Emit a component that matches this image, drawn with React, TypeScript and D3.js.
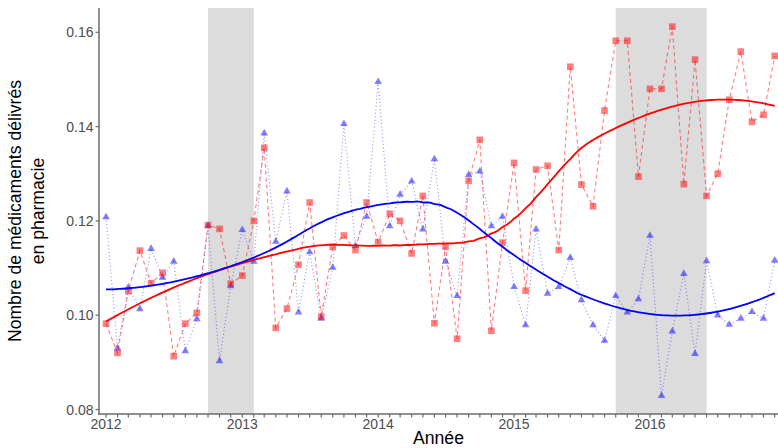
import React from "react";
import * as d3 from "d3";

const START_MONTH = new Date(2012, 0, 1);
const END_MONTH = new Date(2016, 11, 1);
const months: Date[] = d3.timeMonth.range(START_MONTH, new Date(2017, 0, 1));

const redValues: number[] = [
  0.0982, 0.0920, 0.1051, 0.1137, 0.1068, 0.1090, 0.0913, 0.0982, 0.1005, 0.1191, 0.1183, 0.1067,
  0.1084, 0.1200, 0.1355, 0.0973, 0.1014, 0.1107, 0.1239, 0.0997, 0.1145, 0.1169, 0.1138, 0.1239,
  0.1155, 0.1215, 0.1200, 0.1131, 0.1253, 0.0983, 0.1145, 0.0950, 0.1285, 0.1372, 0.0967, 0.1154,
  0.1323, 0.1052, 0.1309, 0.1317, 0.1138, 0.1527, 0.1277, 0.1231, 0.1434, 0.1582, 0.1582, 0.1294,
  0.1480, 0.1480, 0.1612, 0.1278, 0.1542, 0.1253, 0.1300, 0.1457, 0.1559, 0.1410, 0.1425, 0.1550,
];

const blueValues: number[] = [
  0.1208, 0.0930, 0.1059, 0.1013, 0.1141, 0.1080, 0.1114, 0.0924, 0.0992, 0.1190, 0.0903, 0.1062,
  0.1181, 0.1114, 0.1386, 0.1156, 0.1263, 0.1006, 0.1134, 0.0993, 0.1101, 0.1406, 0.1147, 0.1209,
  0.1495, 0.1189, 0.1256, 0.1284, 0.1182, 0.1331, 0.1114, 0.1041, 0.1298, 0.1305, 0.1189, 0.1209,
  0.1060, 0.0979, 0.1182, 0.1046, 0.1060, 0.1122, 0.1032, 0.0979, 0.0946, 0.1041, 0.1006, 0.1034,
  0.1169, 0.0829, 0.0966, 0.1088, 0.0918, 0.1115, 0.1000, 0.0980, 0.0993, 0.1007, 0.0993, 0.1116,
];

const shadedPeriods: [Date, Date][] = [
  [new Date(2012, 9, 1), new Date(2013, 1, 1)],
  [new Date(2015, 9, 1), new Date(2016, 5, 1)],
];

const yTicks: number[] = [0.08, 0.10, 0.12, 0.14, 0.16];
const yearTicks: Date[] = [2012, 2013, 2014, 2015, 2016].map((y) => new Date(y, 0, 1));

const yTitleLines = ["Nombre de médicaments délivrés", "en pharmacie"];
const xTitle = "Année";

const SMOOTH_SPAN = 0.6;

// loess (local quadratic, tricube weights) like ggplot's geom_smooth
function loess(xs: number[], ys: number[], span: number, evalX: number[]): number[] {
  const n = xs.length;
  const q = Math.floor(n * span);
  return evalX.map((x0) => {
    const dists = xs.map((x) => Math.abs(x - x0));
    const sorted = [...dists].sort((a, b) => a - b);
    const h = sorted[Math.min(q, n) - 1] * 1.0000001;
    const S = Array.from({ length: 3 }, () => [0, 0, 0]);
    const B = [0, 0, 0];
    for (let i = 0; i < n; i++) {
      const u = dists[i] / h;
      if (u >= 1) continue;
      const w = Math.pow(1 - u * u * u, 3);
      const dx = xs[i] - x0;
      const p = [1, dx, dx * dx];
      for (let a = 0; a < 3; a++) {
        B[a] += w * p[a] * ys[i];
        for (let b = 0; b < 3; b++) S[a][b] += w * p[a] * p[b];
      }
    }
    const M = S.map((r, i) => [...r, B[i]]);
    for (let c = 0; c < 3; c++) {
      let piv = c;
      for (let r = c + 1; r < 3; r++) if (Math.abs(M[r][c]) > Math.abs(M[piv][c])) piv = r;
      [M[c], M[piv]] = [M[piv], M[c]];
      for (let r = c + 1; r < 3; r++) {
        const f = M[r][c] / M[c][c];
        for (let k = c; k < 4; k++) M[r][k] -= f * M[c][k];
      }
    }
    const sol = [0, 0, 0];
    for (let r = 2; r >= 0; r--) {
      let s = M[r][3];
      for (let k = r + 1; k < 3; k++) s -= M[r][k] * sol[k];
      sol[r] = s / M[r][r];
    }
    return sol[0];
  });
}

export default function App() {
  const W = 778;
  const H = 448;
  const panelLeft = 99;
  const panelRight = 778;
  const panelTop = 8;
  const panelBottom = 414;

  const x = d3.scaleTime().domain([START_MONTH, END_MONTH]).range([106, 774.7]);
  const y = d3.scaleLinear().domain([0.07905, 0.16515]).range([panelBottom, panelTop]);

  const toYears = (d: Date) => d.getTime() / (365.25 * 24 * 3600 * 1000);
  const xsYears = months.map(toYears);
  const evalDates = d3.range(0, 201).map(
    (i) => new Date(START_MONTH.getTime() + (i / 200) * (END_MONTH.getTime() - START_MONTH.getTime()))
  );
  const evalYears = evalDates.map(toYears);
  const redSmooth = loess(xsYears, redValues, SMOOTH_SPAN, evalYears);
  const blueSmooth = loess(xsYears, blueValues, SMOOTH_SPAN, evalYears);

  const line = d3
    .line<[Date, number]>()
    .x((d) => x(d[0]))
    .y((d) => y(d[1]));

  const redPts: [Date, number][] = months.map((d, i) => [d, redValues[i]]);
  const bluePts: [Date, number][] = months.map((d, i) => [d, blueValues[i]]);
  const redSm: [Date, number][] = evalDates.map((d, i) => [d, redSmooth[i]]);
  const blueSm: [Date, number][] = evalDates.map((d, i) => [d, blueSmooth[i]]);

  const sq = 6.6;
  const tri = (cx: number, cy: number) => {
    const s = 7.6;
    const hgt = s * 0.866;
    return `M${cx},${cy - (2 * hgt) / 3}L${cx + s / 2},${cy + hgt / 3}L${cx - s / 2},${cy + hgt / 3}Z`;
  };

  const font = "'Liberation Sans', Arial, sans-serif";
  const axisColor = "#6b6b6b";
  const tickTextColor = "#4d4d4d";

  return (
    <svg width={W} height={H} style={{ position: "absolute", left: 0, top: 0, background: "#fff" }}>
      <rect x={0} y={0} width={W} height={H} fill="#fff" />
      {shadedPeriods.map(([a, b], i) => (
        <rect key={i} x={x(a)} y={panelTop} width={x(b) - x(a)} height={panelBottom - panelTop} fill="#dcdcdc" />
      ))}

      <path d={line(bluePts) || ""} fill="none" stroke="#0000ff" strokeOpacity={0.45} strokeWidth={1.1} strokeDasharray="1,2.5" />
      {bluePts.map((p, i) => (
        <path key={"b" + i} d={tri(x(p[0]), y(p[1]))} fill="#0000ff" fillOpacity={0.5} />
      ))}

      <path d={line(redPts) || ""} fill="none" stroke="#ff0000" strokeOpacity={0.5} strokeWidth={1.1} strokeDasharray="4,3" />
      {redPts.map((p, i) => (
        <rect key={"r" + i} x={x(p[0]) - sq / 2} y={y(p[1]) - sq / 2} width={sq} height={sq} fill="#ff0000" fillOpacity={0.5} />
      ))}

      <path d={line(redSm) || ""} fill="none" stroke="#ff0000" strokeWidth={1.8} />
      <path d={line(blueSm) || ""} fill="none" stroke="#0000ff" strokeWidth={1.8} />

      <line x1={panelLeft} x2={panelLeft} y1={panelTop} y2={panelBottom + 0.75} stroke={axisColor} strokeWidth={1.5} />
      <line x1={panelLeft - 0.75} x2={panelRight} y1={panelBottom} y2={panelBottom} stroke={axisColor} strokeWidth={1.5} />
      {yTicks.map((t) => (
        <g key={t}>
          <line x1={panelLeft - 3.5} x2={panelLeft} y1={y(t)} y2={y(t)} stroke={axisColor} strokeWidth={1.2} />
          <text x={panelLeft - 5.5} y={y(t)} dy="0.36em" textAnchor="end" fontFamily={font} fontSize={14} fill={tickTextColor}>
            {t.toFixed(2)}
          </text>
        </g>
      ))}
      {months.map((m, i) => (
        <line key={"mt" + i} x1={x(m)} x2={x(m)} y1={panelBottom} y2={panelBottom + 3.5} stroke={axisColor} strokeWidth={1.2} />
      ))}
      {yearTicks.map((d) => (
        <text key={d.getFullYear()} x={x(d)} y={429} textAnchor="middle" fontFamily={font} fontSize={14} fill={tickTextColor}>
          {d.getFullYear()}
        </text>
      ))}
      <text x={(panelLeft + panelRight) / 2} y={444} textAnchor="middle" fontFamily={font} fontSize={17.6} fill="#000">
        {xTitle}
      </text>
      <g transform={`translate(0, ${(panelTop + panelBottom) / 2}) rotate(-90)`}>
        {yTitleLines.map((l, i) => (
          <text key={i} x={0} y={21 + i * 23} textAnchor="middle" fontFamily={font} fontSize={17.6} fill="#000">
            {l}
          </text>
        ))}
      </g>
    </svg>
  );
}
